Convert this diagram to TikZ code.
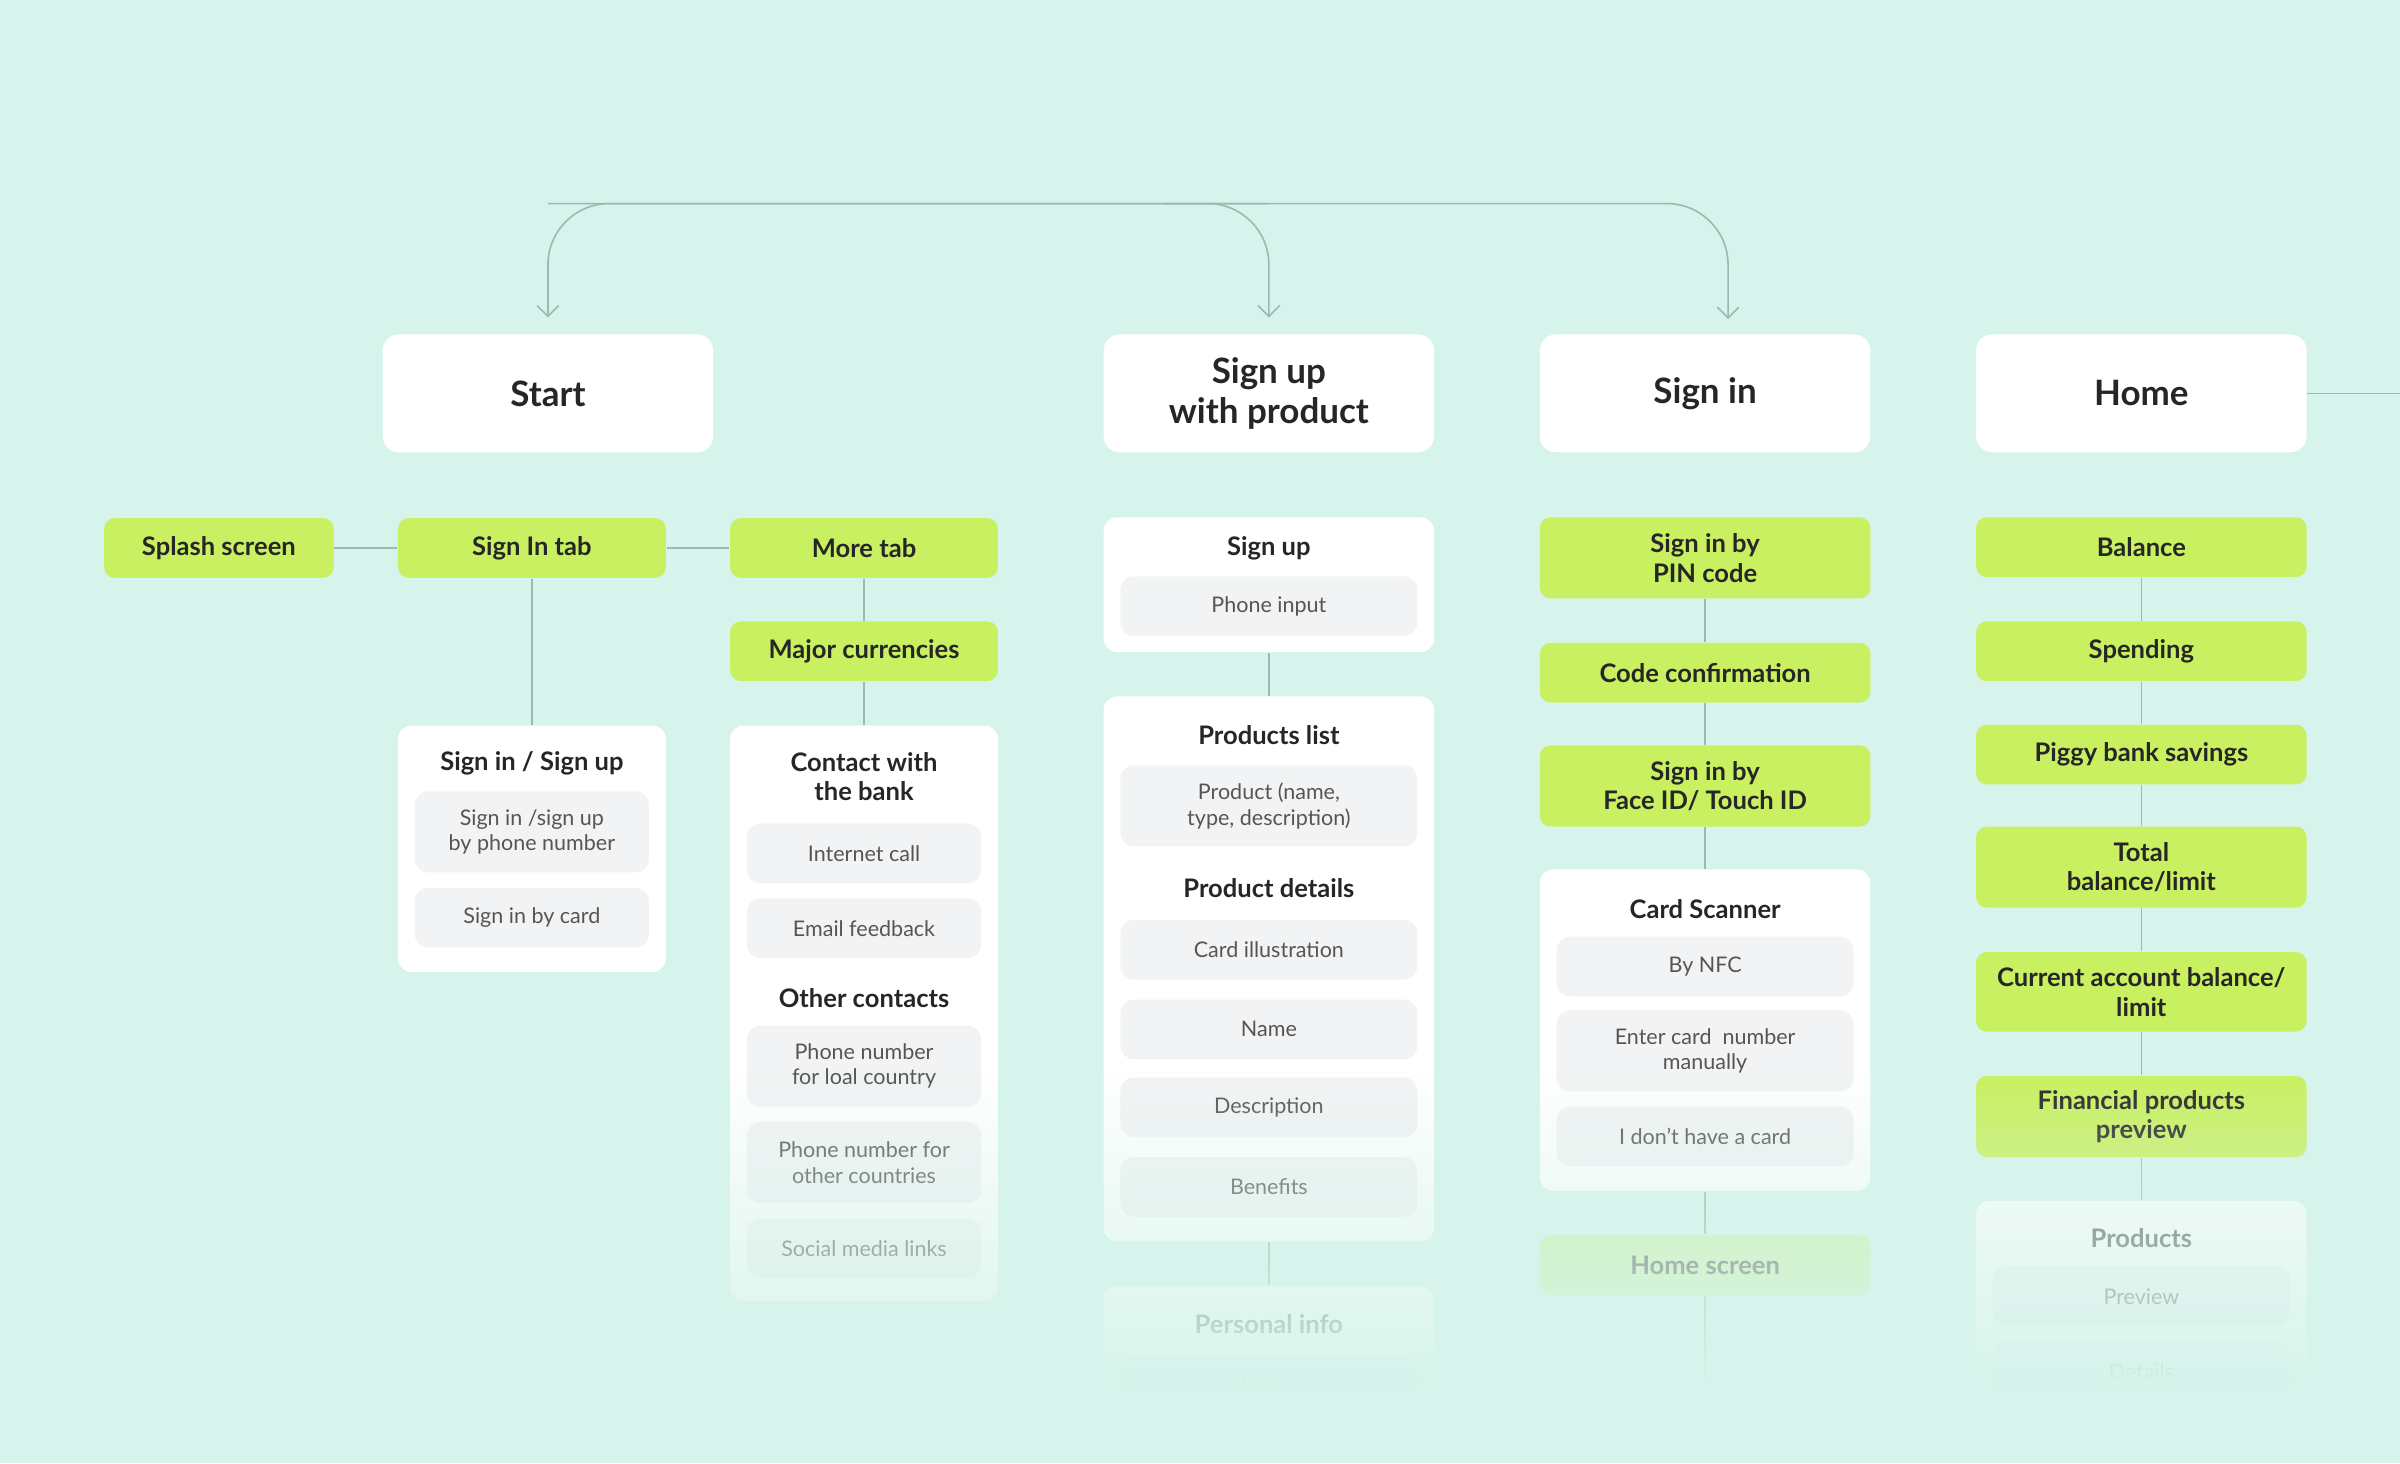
\documentclass[tikz,border=0pt]{standalone}
\usepackage{fontspec}
\setmainfont{Lato}
\usetikzlibrary{arrows.meta,fadings}

\definecolor{bg}{HTML}{D6F4EB}
\definecolor{lime}{HTML}{C9F060}
\definecolor{linkc}{HTML}{9DB8B0}
\definecolor{itemc}{HTML}{F2F3F4}
\definecolor{txtc}{HTML}{262626}
\definecolor{itxt}{HTML}{555555}

\tikzfading[name=fadeup, top color=transparent!100, bottom color=transparent!0]

\tikzset{
  every picture/.style={line width=0.6pt},
  bigbox/.style={fill=white, rounded corners=6pt, minimum width=4.32cm, minimum height=1.54cm,
    align=center, text=txtc, font=\fontsize{13}{15}\selectfont\bfseries},
  tab/.style={fill=lime, rounded corners=4pt, minimum width=3.5cm, minimum height=0.78cm,
    align=center, text=txtc, font=\fontsize{9.5}{11}\selectfont\bfseries},
  widetab/.style={tab, minimum width=4.32cm},
  card/.style={fill=white, rounded corners=5pt},
  cardtitle/.style={align=center, text=txtc, font=\fontsize{9.5}{11}\selectfont\bfseries},
  item/.style={fill=itemc, rounded corners=5pt, minimum width=3.06cm, minimum height=0.78cm,
    align=center, text=itxt, font=\fontsize{8}{9.5}\selectfont},
  wideitem/.style={item, minimum width=3.88cm},
  link/.style={draw=linkc},
}

\begin{document}
\begin{tikzpicture}[x=0.02cm, y=-0.02cm]
  \fill[bg] (0,0) rectangle (1568,956);
  \useasboundingbox (0,0) rectangle (1568,956);

  % Top level screens
  \node[bigbox] (start)  at (358,257)  {Start};
  \node[bigbox] (signup) at (829,257)  {Sign up\\with product};
  \node[bigbox] (signin) at (1114,257) {Sign in};
  \node[bigbox] (home)   at (1399,257) {Home};
  \coordinate (homeout) at (1568,257);
  \draw[link] (home.east) -- (homeout);

  % Top connector
  \coordinate (signinin) at (1129,219);
  \draw[link, -{Straight Barb[length=4pt]}, rounded corners=0.8cm, shorten >=6pt] (829,133) -| (start.north);
  \draw[link, -{Straight Barb[length=4pt]}, rounded corners=0.8cm, shorten >=6pt] (358,133) -| (signinin);
  \draw[link, -{Straight Barb[length=4pt]}, rounded corners=0.8cm, shorten >=6pt] (760,133) -| (signup.north);

  % Start column
  \node[tab, minimum width=3cm] (splash) at (143,358) {Splash screen};
  \node[tab] (signintab) at (347.5,358) {Sign In tab};
  \node[tab] (moretab)   at (564.5,358) {More tab};
  \node[tab] (major)     at (564.5,425.5) {Major currencies};

  \node[card, minimum width=3.5cm, minimum height=3.22cm] (cardA) at (347.5,554.5) {};
  \node[cardtitle] at (347.5,499) {Sign in / Sign up};
  \node[item, minimum height=1.06cm] at (347.5,543.5) {Sign in /sign up\\by phone number};
  \node[item] at (347.5,599.5) {Sign in by card};

  \node[card, minimum width=3.5cm, minimum height=7.52cm] (cardB) at (564.5,662) {};
  \node[cardtitle] at (564.5,507.5) {Contact with\\the bank};
  \node[item] at (564.5,557.5) {Internet call};
  \node[item] at (564.5,606.5) {Email feedback};
  \node[cardtitle] at (564.5,652) {Other contacts};
  \node[item, minimum height=1.06cm] at (564.5,696.5) {Phone number\\for loal country};
  \node[item, minimum height=1.06cm] at (564.5,759.5) {Phone number for\\other countries};
  \node[item] at (564.5,815.5) {Social media links};

  \draw[link] (splash.east) -- (signintab.west);
  \draw[link] (signintab.east) -- (moretab.west);
  \draw[link] (signintab.south) -- (cardA.north);
  \draw[link] (moretab.south) -- (major.north);
  \draw[link] (major.south) -- (cardB.north);

  % Sign up column
  \node[card, minimum width=4.32cm, minimum height=1.76cm] (cardC) at (829,382) {};
  \node[cardtitle] at (829,358) {Sign up};
  \node[wideitem] at (829,396) {Phone input};

  \node[card, minimum width=4.32cm, minimum height=7.12cm] (cardD) at (829,633) {};
  \node[cardtitle] at (829,480) {Products list};
  \node[wideitem, minimum height=1.06cm] at (829,526.5) {Product (name,\\type, description)};
  \node[cardtitle] at (829,580) {Product details};
  \node[wideitem] at (829,620.5) {Card illustration};
  \node[wideitem] at (829,672.5) {Name};
  \node[wideitem] at (829,723.5) {Description};
  \node[wideitem] at (829,775.5) {Benefits};

  \node[card, minimum width=4.32cm, minimum height=1.6cm] (cardE) at (829,880) {};
  \node[cardtitle, text=itxt] at (829,865) {Personal info};
  \node[wideitem] at (829,905) {Name};

  \draw[link] (cardC.south) -- (cardD.north);
  \draw[link] (cardD.south) -- (cardE.north);

  % Sign in column
  \node[widetab, minimum height=1.06cm] (pin) at (1114,364.5) {Sign in by\\PIN code};
  \node[widetab] (code) at (1114,439.5) {Code confirmation};
  \node[widetab, minimum height=1.06cm] (face) at (1114,513.5) {Sign in by\\Face ID/ Touch ID};
  \node[card, minimum width=4.32cm, minimum height=4.2cm] (cardF) at (1114,673) {};
  \node[cardtitle] at (1114,594) {Card Scanner};
  \node[wideitem] at (1114,631.5) {By NFC};
  \node[wideitem, minimum height=1.06cm] at (1114,686.5) {Enter card\ \ number\\manually};
  \node[wideitem] at (1114,742.5) {I don't have a card};
  \node[widetab, fill=lime!45!bg, text=itxt] (homescr) at (1114,826.5) {Home screen};
  \coordinate (signinend) at (1114,905);

  \draw[link] (pin.south) -- (code.north);
  \draw[link] (code.south) -- (face.north);
  \draw[link] (face.south) -- (cardF.north);
  \draw[link] (cardF.south) -- (homescr.north);
  \draw[link] (homescr.south) -- (signinend);

  % Home column
  \node[widetab] (balance)  at (1399,357.5) {Balance};
  \node[widetab] (spending) at (1399,425.5) {Spending};
  \node[widetab] (piggy)    at (1399,493)   {Piggy bank savings};
  \node[widetab, minimum height=1.06cm] (total)   at (1399,566.5) {Total\\balance/limit};
  \node[widetab, minimum height=1.04cm] (current) at (1399,648)   {Current account balance/\\limit};
  \node[widetab, minimum height=1.06cm] (finance) at (1399,729.5) {Financial products\\preview};
  \node[card, minimum width=4.32cm, minimum height=2.3cm] (cardG) at (1399,842) {};
  \node[cardtitle, text=itxt] at (1399,809) {Products};
  \node[wideitem] at (1399,847) {Preview};
  \node[wideitem] at (1399,896) {Details};

  \draw[link] (balance.south) -- (spending.north);
  \draw[link] (spending.south) -- (piggy.north);
  \draw[link] (piggy.south) -- (total.north);
  \draw[link] (total.south) -- (current.north);
  \draw[link] (current.south) -- (finance.north);
  \draw[link] (finance.south) -- (cardG.north);

  % Fade out at the bottom
  \fill[bg, path fading=fadeup] (0,700) rectangle (1568,905);
  \fill[bg] (0,905) rectangle (1568,956);
\end{tikzpicture}
\end{document}
